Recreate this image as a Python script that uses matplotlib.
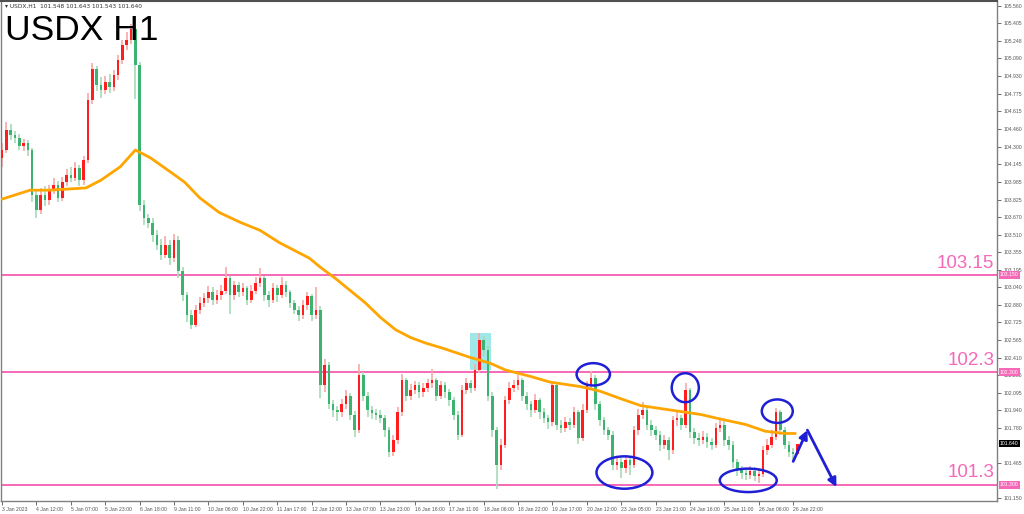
"""
USDX H1 candlestick chart with moving average, support/resistance levels
and hand-drawn style annotations.
"""

# ------------------------------------------------------------------------------------------
# 0. Imports
# ------------------------------------------------------------------------------------------
import matplotlib
matplotlib.use("Agg")
import matplotlib.pyplot as plt
from matplotlib.patches import Ellipse, Rectangle
import numpy as np

# ------------------------------------------------------------------------------------------
# 1. Data (one candle = two hourly bars)
# ------------------------------------------------------------------------------------------
FIRST_OPEN = 104.20

CLOSES = [
    104.27, 104.45, 104.40, 104.38, 104.31, 104.33, 104.27, 103.87, 103.73, 103.87,
    103.82, 103.91, 103.96, 103.84, 103.98, 104.05, 104.02, 104.11, 104.00, 104.18,
    104.72, 105.00, 104.85, 104.81, 104.88, 104.83, 104.94, 105.08, 105.21, 105.26,
    105.35, 105.03, 103.78, 103.66, 103.62, 103.51, 103.42, 103.33, 103.42, 103.30,
    103.46, 103.19, 102.97, 102.79, 102.70, 102.84, 102.90, 102.94, 103.00, 102.93,
    102.97, 103.01, 103.12, 102.97, 103.06, 103.00, 103.03, 102.93, 103.01, 103.08,
    103.12, 102.97, 102.93, 103.03, 102.97, 103.06, 103.00, 102.90, 102.84, 102.79,
    102.88, 102.96, 102.79, 102.84, 102.16, 102.34, 101.99, 101.94, 101.92, 101.99,
    102.07, 101.90, 101.76, 102.25, 102.07, 101.94, 101.91, 101.90, 101.87, 101.76,
    101.56, 101.67, 101.92, 102.21, 102.07, 102.12, 102.16, 102.10, 102.14, 102.18,
    102.21, 102.07, 102.16, 102.10, 102.03, 101.90, 101.72, 102.12, 102.18, 102.14,
    102.30, 102.57, 102.48, 102.07, 101.76, 101.45, 101.63, 102.03, 102.14, 102.16,
    102.21, 102.07, 101.99, 101.94, 102.03, 101.92, 101.87, 101.83, 102.16, 101.81,
    101.78, 101.83, 101.81, 101.92, 101.69, 101.94, 102.16, 102.23, 101.99, 101.85,
    101.76, 101.72, 101.45, 101.47, 101.42, 101.49, 101.45, 101.76, 101.90, 101.94,
    101.81, 101.76, 101.72, 101.63, 101.67, 101.58, 101.85, 101.87, 101.81, 102.12,
    101.74, 101.69, 101.67, 101.70, 101.65, 101.63, 101.78, 101.81, 101.67, 101.63,
    101.47, 101.40, 101.38, 101.36, 101.39, 101.35, 101.37, 101.58, 101.63, 101.70,
    101.92, 101.76, 101.63, 101.56, 101.55, 101.64,
]

HIGHS = [
    104.33, 104.52, 104.50, 104.44, 104.41, 104.37, 104.36, 104.29, 103.90, 103.93,
    103.95, 103.96, 104.02, 103.99, 104.03, 104.10, 104.12, 104.16, 104.14, 104.22,
    104.78, 105.05, 105.02, 104.92, 104.93, 104.95, 104.99, 105.12, 105.26, 105.33,
    105.40, 105.37, 105.06, 103.82, 103.70, 103.66, 103.55, 103.47, 103.50, 103.46,
    103.52, 103.50, 103.22, 103.00, 102.84, 102.88, 102.95, 102.99, 103.05, 103.04,
    103.02, 103.06, 103.22, 103.14, 103.10, 103.09, 103.08, 103.05, 103.06, 103.13,
    103.21, 103.14, 103.01, 103.08, 103.06, 103.13, 103.10, 103.02, 102.93, 102.87,
    102.93, 103.00, 102.98, 103.04, 102.87, 102.40, 102.37, 102.03, 101.98, 102.04,
    102.12, 102.09, 101.93, 102.35, 102.28, 102.10, 101.98, 101.95, 101.94, 101.90,
    101.79, 101.72, 101.97, 102.26, 102.23, 102.17, 102.20, 102.19, 102.18, 102.22,
    102.31, 102.23, 102.20, 102.19, 102.13, 102.06, 101.93, 102.16, 102.23, 102.21,
    102.35, 102.63, 102.60, 102.51, 102.10, 101.79, 101.68, 102.07, 102.19, 102.21,
    102.25, 102.23, 102.10, 102.02, 102.08, 102.05, 101.96, 101.90, 102.19, 102.18,
    101.85, 101.88, 101.87, 101.97, 101.94, 101.99, 102.20, 102.29, 102.25, 102.02,
    101.88, 101.79, 101.75, 101.52, 101.51, 101.54, 101.52, 101.80, 101.95, 102.01,
    101.97, 101.85, 101.80, 101.75, 101.72, 101.70, 101.89, 101.92, 101.90, 102.18,
    102.14, 101.78, 101.73, 101.75, 101.73, 101.69, 101.82, 101.86, 101.84, 101.71,
    101.66, 101.50, 101.44, 101.42, 101.44, 101.43, 101.42, 101.62, 101.68, 101.76,
    101.96, 101.94, 101.79, 101.66, 101.60, 101.64,
]

LOWS = [
    104.12, 104.24, 104.36, 104.33, 104.27, 104.26, 104.22, 103.80, 103.66, 103.70,
    103.77, 103.78, 103.88, 103.80, 103.81, 103.95, 103.98, 103.99, 103.95, 103.96,
    104.15, 104.68, 104.80, 104.74, 104.77, 104.78, 104.80, 104.90, 105.04, 105.17,
    105.22, 104.73, 103.72, 103.60, 103.57, 103.45, 103.37, 103.28, 103.30, 103.24,
    103.27, 103.12, 102.92, 102.73, 102.67, 102.68, 102.80, 102.86, 102.90, 102.88,
    102.89, 102.93, 102.98, 102.80, 102.93, 102.95, 102.96, 102.88, 102.90, 102.98,
    103.04, 102.92, 102.86, 102.90, 102.91, 102.94, 102.95, 102.85, 102.80, 102.74,
    102.76, 102.84, 102.74, 102.76, 102.05, 102.10, 101.95, 101.88, 101.84, 101.88,
    101.95, 101.85, 101.70, 101.73, 102.02, 101.88, 101.86, 101.85, 101.82, 101.70,
    101.52, 101.53, 101.64, 101.89, 102.02, 102.03, 102.08, 102.05, 102.06, 102.10,
    102.14, 102.02, 102.04, 102.05, 101.98, 101.85, 101.67, 101.70, 102.08, 102.09,
    102.11, 102.27, 102.42, 102.02, 101.70, 101.23, 101.40, 101.60, 101.99, 102.10,
    102.12, 102.02, 101.94, 101.88, 101.91, 101.86, 101.82, 101.77, 101.80, 101.76,
    101.73, 101.74, 101.76, 101.78, 101.64, 101.66, 101.91, 102.12, 101.94, 101.80,
    101.72, 101.67, 101.40, 101.40, 101.33, 101.38, 101.36, 101.42, 101.72, 101.86,
    101.76, 101.71, 101.67, 101.57, 101.59, 101.49, 101.55, 101.80, 101.76, 101.78,
    101.69, 101.64, 101.62, 101.64, 101.60, 101.58, 101.60, 101.74, 101.62, 101.58,
    101.42, 101.35, 101.32, 101.31, 101.32, 101.30, 101.29, 101.34, 101.54, 101.60,
    101.67, 101.72, 101.59, 101.52, 101.49, 101.54,
]

# Moving average (hourly bar index, price)
MA_BARS = [0, 13, 22, 39, 46, 55, 62, 69, 80, 85, 92, 101, 111, 120, 129, 136,
           143, 148, 155, 162, 169, 176, 183, 190, 197, 204, 218, 227, 234, 246,
           255, 269, 278, 288, 297, 311, 325, 334, 346, 355, 364, 369]
MA_VALUES = [103.83, 103.91, 103.91, 103.93, 104.00, 104.12, 104.27, 104.20, 104.05,
             103.98, 103.84, 103.71, 103.62, 103.55, 103.44, 103.37, 103.30, 103.22,
             103.12, 103.01, 102.90, 102.77, 102.66, 102.59, 102.54, 102.50, 102.41,
             102.36, 102.30, 102.24, 102.19, 102.15, 102.11, 102.04, 101.98, 101.94,
             101.90, 101.86, 101.81, 101.75, 101.73, 101.73]

# Horizontal levels
LEVEL_PRICES = [103.15, 102.28, 101.27]
LEVEL_TEXT = ["103.15", "102.3", "101.3"]
LEVEL_AXIS_TEXT = ["103.150", "102.300", "101.300"]
LAST_PRICE = 101.64

# Time axis
TIME_LABELS = [
    "3 Jan 2023", "4 Jan 12:00", "5 Jan 07:00", "5 Jan 23:00", "6 Jan 18:00",
    "9 Jan 11:00", "10 Jan 06:00", "10 Jan 22:00", "11 Jan 17:00", "12 Jan 12:00",
    "13 Jan 07:00", "13 Jan 23:00", "16 Jan 16:00", "17 Jan 11:00", "18 Jan 06:00",
    "18 Jan 22:00", "19 Jan 17:00", "20 Jan 12:00", "23 Jan 05:00", "23 Jan 21:00",
    "24 Jan 16:00", "25 Jan 11:00", "26 Jan 06:00", "26 Jan 22:00",
]
BARS_PER_LABEL = 16

PRICE_TICKS = [105.560, 105.405, 105.248, 105.090, 104.930, 104.775, 104.615,
               104.460, 104.300, 104.145, 103.985, 103.825, 103.670, 103.510,
               103.355, 103.195, 103.040, 102.880, 102.725, 102.565, 102.410,
               102.255, 102.095, 101.940, 101.780, 101.465, 101.150]

# Annotations: (bar, price, width in bars, height in price)
ELLIPSES = [
    (275.0, 102.26, 15.5, 0.20),
    (289.5, 101.38, 26.0, 0.29),
    (317.8, 102.14, 12.6, 0.26),
    (347.1, 101.31, 26.5, 0.21),
    (360.6, 101.93, 14.4, 0.21),
]
ARROW_PATH = [(368.0, 101.48), (374.6, 101.76), (388.1, 101.25)]
HIGHLIGHT_BOX = (217.8, 102.30, 9.8, 0.33)

# ------------------------------------------------------------------------------------------
# 2. Styles
# ------------------------------------------------------------------------------------------
UP_BODY, UP_WICK = "#ff1e1e", "#f6a9a9"
DN_BODY, DN_WICK = "#3cb371", "#a6dcb6"
MA_COLOR = "#ffa500"
LEVEL_COLOR = "#f668b8"
ANNOT_COLOR = "#1f1fd6"
AXIS_TEXT = "#555555"
SMALL_FONT = "Liberation Sans"


def main():
    fig = plt.figure(figsize=(10.24, 5.14), dpi=100)
    ax = fig.add_axes([1 / 1024, 13 / 514, 996 / 1024, 500 / 514])

    closes = np.array(CLOSES)
    opens = np.array([FIRST_OPEN] + CLOSES[:-1])
    highs = np.array(HIGHS)
    lows = np.array(LOWS)
    x = np.arange(len(closes)) * 2
    up = closes >= opens

    # wicks
    ax.vlines(x[up], lows[up], highs[up], color=UP_WICK, lw=1.2, zorder=2)
    ax.vlines(x[~up], lows[~up], highs[~up], color=DN_WICK, lw=1.2, zorder=2)
    # bodies
    body = np.maximum(np.abs(closes - opens), 0.008)
    bottom = np.minimum(opens, closes)
    ax.bar(x[up], body[up], bottom=bottom[up], width=1.2, color=UP_BODY, lw=0, zorder=3)
    ax.bar(x[~up], body[~up], bottom=bottom[~up], width=1.2, color=DN_BODY, lw=0, zorder=3)

    # moving average
    ax.plot(MA_BARS, MA_VALUES, color=MA_COLOR, lw=2.0, zorder=4, solid_capstyle="round",
            solid_joinstyle="round")

    # levels
    for price, txt in zip(LEVEL_PRICES, LEVEL_TEXT):
        ax.axhline(price, color=LEVEL_COLOR, lw=1.4, zorder=1)
        ax.text(461.5, price + 0.03, txt, color=LEVEL_COLOR, fontsize=13.5,
                family="Liberation Sans", ha="right", va="bottom", zorder=6)

    # highlight box
    bx, by, bw, bh = HIGHLIGHT_BOX
    ax.add_patch(Rectangle((bx, by), bw, bh, facecolor="#8fe3e6", edgecolor="none",
                           alpha=0.85, zorder=1.5))

    # ellipses
    for cx, cy, w, h in ELLIPSES:
        ax.add_patch(Ellipse((cx, cy), w, h, fill=False, edgecolor=ANNOT_COLOR,
                             lw=1.8, zorder=7))

    # arrows
    for (x0, y0), (x1, y1) in zip(ARROW_PATH[:-1], ARROW_PATH[1:]):
        ax.annotate("", xy=(x1, y1), xytext=(x0, y0), zorder=7,
                    arrowprops=dict(arrowstyle="-|>,head_length=0.5,head_width=0.25",
                                    color=ANNOT_COLOR, lw=2.0, shrinkA=0, shrinkB=0))

    ax.set_xlim(-0.5, 462.8)
    ax.set_ylim(101.125, 105.605)

    # x axis
    ax.set_xticks([BARS_PER_LABEL * i for i in range(len(TIME_LABELS))])
    ax.set_xticklabels(TIME_LABELS, family=SMALL_FONT)
    for lbl in ax.get_xticklabels():
        lbl.set_horizontalalignment("left")
    ax.tick_params(axis="x", direction="out", length=3, pad=1.5, labelsize=3.7,
                   colors=AXIS_TEXT, width=0.6)

    # y axis on the right
    ax.yaxis.tick_right()
    ax.set_yticks(PRICE_TICKS)
    ax.set_yticklabels([f"{v:.3f}" for v in PRICE_TICKS], family=SMALL_FONT)
    ax.tick_params(axis="y", direction="out", length=3, pad=1.5, labelsize=3.7,
                   colors=AXIS_TEXT, width=0.6)

    for side in ["left", "bottom", "right"]:
        ax.spines[side].set_color("#808080")
        ax.spines[side].set_linewidth(1.0)
    ax.spines["top"].set_color("#505050")
    ax.spines["top"].set_linewidth(1.5)

    # price boxes on the axis
    ytrans = ax.get_yaxis_transform()
    for price, txt in zip(LEVEL_PRICES, LEVEL_AXIS_TEXT):
        ax.text(1.003, price, txt, transform=ytrans, fontsize=3.7, family=SMALL_FONT,
                color="white", va="center", ha="left", clip_on=False, zorder=8,
                bbox=dict(boxstyle="square,pad=0.25", fc=LEVEL_COLOR, ec="none"))
    ax.text(1.003, LAST_PRICE, f"{LAST_PRICE:.3f}", transform=ytrans, fontsize=3.7,
            family=SMALL_FONT, color="white", va="center", ha="left", clip_on=False,
            zorder=8, bbox=dict(boxstyle="square,pad=0.25", fc="black", ec="none"))

    # titles
    ax.text(0.004, 0.995, "\u25be USDX,H1  101.548 101.643 101.543 101.640",
            transform=ax.transAxes, fontsize=4.2, color="#333333", va="top", ha="left")
    ax.text(0.004, 0.975, "USDX H1", transform=ax.transAxes, fontsize=25.5,
            family="Liberation Sans", color="black", va="top", ha="left", zorder=9)

    fig.savefig("out.png", dpi=100, facecolor="white")


if __name__ == "__main__":
    main()
